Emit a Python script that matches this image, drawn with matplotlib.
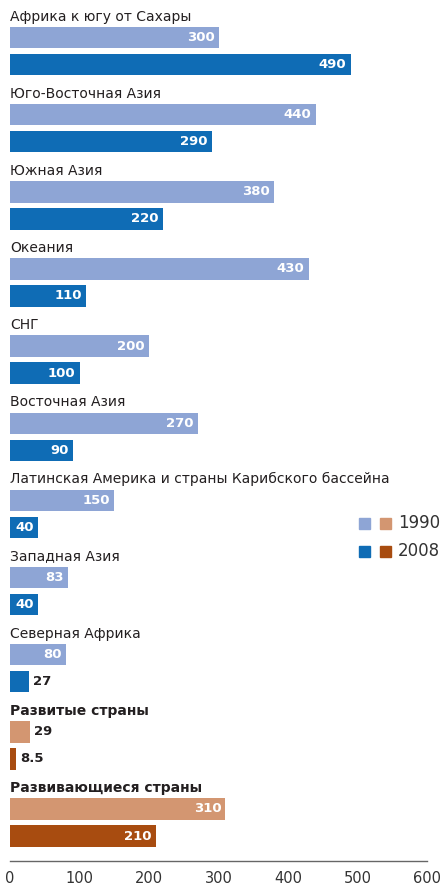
import matplotlib.pyplot as plt
from matplotlib.patches import Rectangle

regions = ['Африка к югу от Сахары', 'Юго-Восточная Азия', 'Южная Азия', 'Океания', 'СНГ',
           'Восточная Азия', 'Латинская Америка и страны Карибского бассейна', 'Западная Азия',
           'Северная Африка', 'Развитые страны', 'Развивающиеся страны']
v1990 = [300, 440, 380, 430, 200, 270, 150, 83, 80, 29, 310]
v2008 = [490, 290, 220, 110, 100, 90, 40, 40, 27, 8.5, 210]
labels_1990 = ['300', '440', '380', '430', '200', '270', '150', '83', '80', '29', '310']
labels_2008 = ['490', '290', '220', '110', '100', '90', '40', '40', '27', '8.5', '210']
aggregates = {'Развитые страны', 'Развивающиеся страны'}

blue = {'1990': '#8ea5d5', '2008': '#0f6cb5'}
brown = {'1990': '#d39671', '2008': '#a84c10'}
text_dark = '#231f20'

W, H = 442, 885
fig = plt.figure(figsize=(W / 100, H / 100), dpi=100)
axis_y = 861
ax = fig.add_axes([10 / W, (H - axis_y) / H, 417 / W, axis_y / H])
ax.set_xlim(0, 600)
ax.set_ylim(axis_y, 0)

step = 77.15
bar_h = 21.5
for i, name in enumerate(regions):
    y1 = 37.5 + step * i
    y2 = y1 + 27
    pal = brown if name in aggregates else blue
    ax.barh(y1, v1990[i], height=bar_h, color=pal['1990'])
    ax.barh(y2, v2008[i], height=bar_h, color=pal['2008'])
    ax.text(0, y1 - 21, name, fontsize=10, color=text_dark, va='center', ha='left',
            fontweight='semibold' if name in aggregates else 'normal')
    for y, v, s in ((y1, v1990[i], labels_1990[i]), (y2, v2008[i], labels_2008[i])):
        if v >= 40:
            ax.annotate(s, (v, y), xytext=(-3, 0), textcoords='offset points',
                        ha='right', va='center', color='white', fontsize=9.5, fontweight='bold')
        else:
            ax.annotate(s, (v, y), xytext=(3, 0), textcoords='offset points',
                        ha='left', va='center', color=text_dark, fontsize=9.5, fontweight='bold')

for side in ('top', 'right', 'left'):
    ax.spines[side].set_visible(False)
ax.spines['bottom'].set_color('#666666')
ax.spines['bottom'].set_linewidth(1)
ax.set_yticks([])
ax.set_xticks([0, 100, 200, 300, 400, 500, 600])
ax.tick_params(axis='x', length=0, pad=7, labelsize=10.5, labelcolor='#333333')

# legend: paired swatches for regional and aggregate series
for row, year in enumerate(('1990', '2008')):
    yc = 523.5 + 27.5 * row
    for col, pal in enumerate((blue, brown)):
        x0 = 359 + 21 * col
        fig.patches.append(Rectangle((x0 / W, (H - yc - 5.5) / H), 11 / W, 11 / H,
                                     transform=fig.transFigure, color=pal[year]))
    fig.text(398 / W, (H - yc) / H, year, fontsize=12, color='#333333', va='center', ha='left')

fig.savefig('out.png', dpi=100)
